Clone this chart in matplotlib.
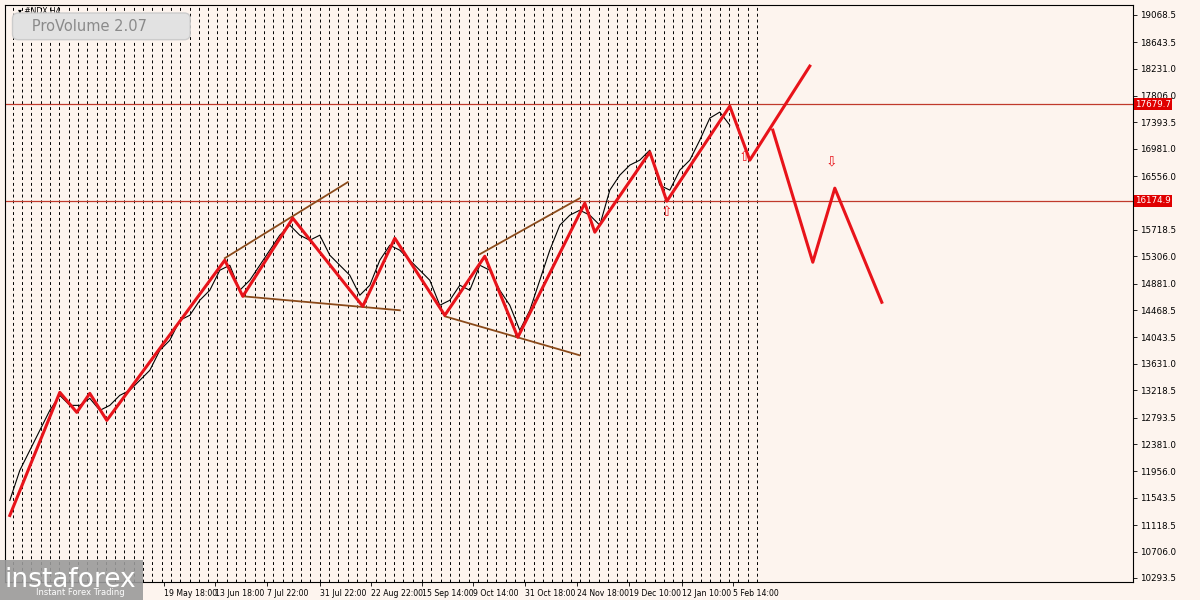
import matplotlib.pyplot as plt
import numpy as np

# close prices, read every ~10 px along the chart
close_x = list(range(5, 730, 10))
close_p = [11502, 11970, 12282, 12594, 12906, 13140, 12984, 12984, 13093, 12906,
           12984, 13140, 13218, 13374, 13530, 13842, 13998, 14310, 14388, 14622,
           14778, 15090, 15168, 14778, 14934, 15168, 15402, 15636, 15792, 15636,
           15558, 15636, 15324, 15168, 15012, 14700, 14856, 15246, 15480, 15402,
           15246, 15090, 14934, 14544, 14622, 14856, 14778, 15168, 15090, 14778,
           14544, 14154, 14466, 14934, 15402, 15792, 15948, 16026, 15948, 15792,
           16338, 16572, 16728, 16806, 16962, 16416, 16338, 16650, 16806, 17118,
           17461, 17555, 17352]

zig_x = [5, 55, 72, 85, 102, 220, 238, 288, 358, 390, 440, 480, 513, 580, 590, 645, 662, 725, 745, 805]
zig_p = [11268, 13187, 12875, 13171, 12750, 15246, 14684, 15901, 14528, 15589, 14388, 15308,
         14045, 16135, 15683, 16931, 16166, 17648, 16806, 18272]
alt_x = [768, 808, 830, 877]
alt_p = [17274, 15215, 16369, 14591]

brown = [((220, 343), (15278, 16463)), ((238, 395), (14684, 14466)),
         ((475, 575), (15340, 16213)), ((440, 575), (14372, 13764))]

levels = [17679.7, 16174.9]
yticks = [19068.5, 18643.5, 18231.0, 17806.0, 17393.5, 16981.0, 16556.0, 15718.5, 15306.0,
          14881.0, 14468.5, 14043.5, 13631.0, 13218.5, 12793.5, 12381.0, 11956.0, 11543.5,
          11118.5, 10706.0, 10293.5]
date_x = [159, 210, 262, 315, 366, 417, 468, 520, 572, 624, 677, 728]
date_lbl = ["19 May 18:00", "13 Jun 18:00", "7 Jul 22:00", "31 Jul 22:00", "22 Aug 22:00",
            "15 Sep 14:00", "9 Oct 14:00", "31 Oct 18:00", "24 Nov 18:00", "19 Dec 10:00",
            "12 Jan 10:00", "5 Feb 14:00"]

bg = "#fdf4ee"
fig = plt.figure(figsize=(12, 6), dpi=100, facecolor=bg)
ax = fig.add_axes([0.004, 1 - 582 / 600, 1128 / 1200, 577 / 600], facecolor=bg)
ax.set_xlim(0, 1128)
ax.set_ylim(10231, 19224)

for x in np.arange(8, 760, 9.3):
    ax.axvline(x, color="black", ls=(0, (3, 3)), lw=0.7, zorder=1)

for lv in levels:
    ax.axhline(lv, color="#c0392b", lw=0.9, zorder=2)

ax.plot(close_x, close_p, color="black", lw=0.8, zorder=3)
for xs, ps in brown:
    ax.plot(xs, ps, color="#8b4a1a", lw=1.3, zorder=4)
ax.plot(zig_x, zig_p, color="#e8131a", lw=2.2, zorder=5)
ax.plot(alt_x, alt_p, color="#e8131a", lw=2.2, zorder=5)

ax.text(662, 16000, "⇧", color="#e8131a", fontsize=10, ha="center", va="center", zorder=6)
ax.text(740, 16860, "⇧", color="#e8131a", fontsize=10, ha="center", va="center", zorder=6)
ax.text(827, 16780, "⇩", color="#e8131a", fontsize=10, ha="center", va="center", zorder=6)

ax.yaxis.tick_right()
ax.set_yticks(yticks)
ax.set_yticklabels(["%.1f" % t for t in yticks], fontsize=6.3)
ax.set_xticks(date_x)
ax.set_xticklabels(date_lbl, fontsize=5.6, ha="left")
ax.tick_params(length=3, width=0.6, pad=2)
for lv in levels:
    ax.text(1.002, lv, "%.1f" % lv, transform=ax.get_yaxis_transform(), fontsize=6.3,
            color="white", va="center", ha="left",
            bbox=dict(facecolor="#e00000", edgecolor="none", pad=1))

ax.text(0.012, 0.997, "▾ #NDX,H4", transform=ax.transAxes, fontsize=5.5, va="top")
ax.text(0.012, 0.963, "   ProVolume 2.07        ", transform=ax.transAxes, fontsize=10.5,
        color="#8a8a8a", va="center",
        bbox=dict(boxstyle="round,pad=0.4", facecolor="#e2e2e2", edgecolor="#cccccc"))

fig.text(0.004, 0.033, "instaforex", fontsize=19, color="white", va="center", zorder=10,
         bbox=dict(facecolor="#9a9a9a", edgecolor="none", pad=5, alpha=0.9))
fig.text(0.03, 0.012, "Instant Forex Trading", fontsize=6, color="white", va="center", zorder=11)

fig.savefig("out.png", dpi=100, facecolor=bg)
